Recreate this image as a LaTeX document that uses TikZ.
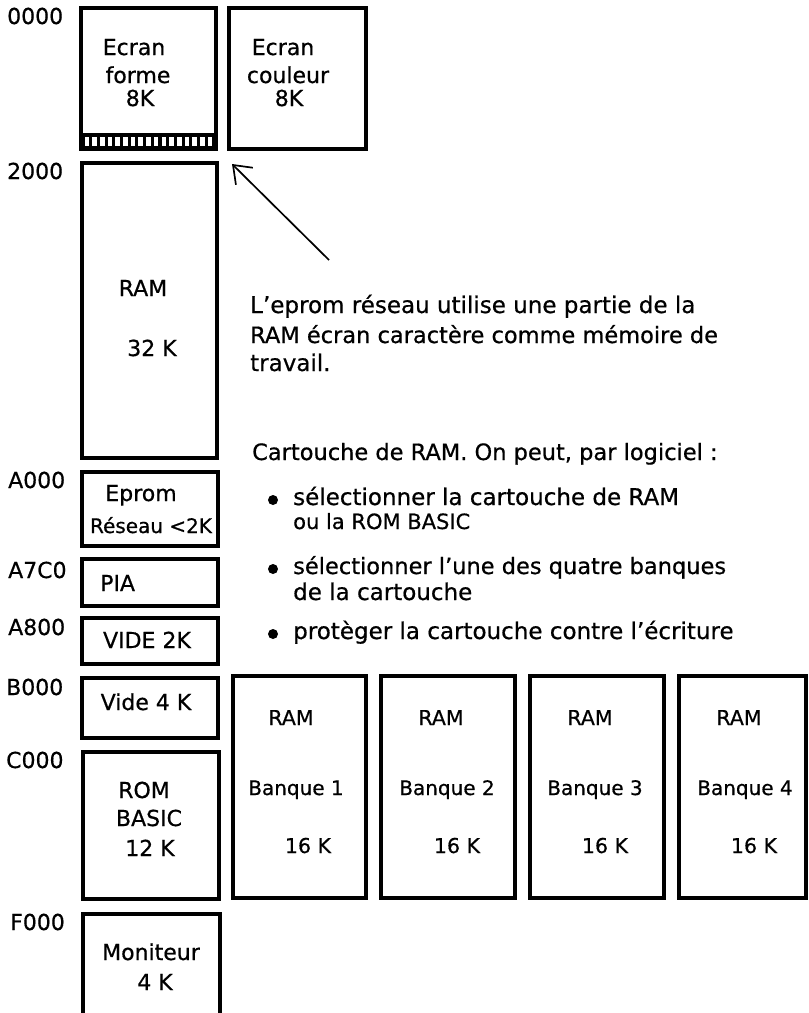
\documentclass[tikz,border=0pt]{standalone}
\usepackage{fontspec}
\setmainfont{DejaVu Sans}[FakeBold=0.6]
\usetikzlibrary{fit,arrows.meta}
\begin{document}
\begin{tikzpicture}[x=1pt,y=-1pt,
  mbox/.style={draw, line width=3.6pt, inner sep=0pt},
  boxline/.style={draw, line width=3.6pt},
  lbl/.style={anchor=base, inner sep=0pt, font=\fontsize{22}{26}\selectfont},
  sm/.style={font=\fontsize{20.5}{24}\selectfont},
  smb/.style={font=\fontsize{20}{24}\selectfont},
  addr/.style={anchor=base west, inner sep=0pt, font=\fontsize{22}{26}\selectfont},
  txt/.style={anchor=base west, inner sep=0pt, font=\fontsize{23}{27}\selectfont},
  txtb/.style={anchor=base west, inner sep=0pt, font=\fontsize{22.5}{27}\selectfont},
  txts/.style={anchor=base west, inner sep=0pt, font=\fontsize{21}{25}\selectfont},
  bul/.style={circle, fill, inner sep=0pt, minimum size=10pt}]
\useasboundingbox (0,0) rectangle (809,1013);

% address labels
\node[addr] (a0000) at (7,24) {0000};
\node[addr] (a2000) at (7,179) {2000};
\node[addr] (aA000) at (8,488) {A000};
\node[addr] (aA7C0) at (8,578) {A7C0};
\node[addr] (aA800) at (8,635) {A800};
\node[addr] (aB000) at (6,695) {B000};
\node[addr] (aC000) at (6,768) {C000};
\node[addr] (aF000) at (10,930) {F000};

% memory boxes
\node[mbox, fit={(81,8) (216,149)}] (ef) {};
\fill (81,133) rectangle (216,149);
\foreach \i in {0,...,16} \fill[white] ({84.5+\i*7.7},137) rectangle ++(4.6,8.5);
\node[mbox, fit={(229,8) (366,149)}] (ec) {};
\node[mbox, fit={(82,163) (217,458)}] (ram) {};
\node[mbox, fit={(82,472) (218,546)}] (ep) {};
\node[mbox, fit={(82,559) (218,606)}] (pia) {};
\node[mbox, fit={(82,618) (218,664)}] (vide2) {};
\node[mbox, fit={(82,678) (218,738)}] (vide4) {};
\node[mbox, fit={(83,752) (219,899)}] (rom) {};
\node[mbox, fit={(233,676) (366,898)}] (b1) {};
\node[mbox, fit={(381,676) (515,898)}] (b2) {};
\node[mbox, fit={(530,676) (664,898)}] (b3) {};
\node[mbox, fit={(679,676) (806,898)}] (b4) {};
\node[inner sep=0pt, fit={(83,914) (220,1020)}] (mon) {};
\draw[boxline] (mon.south west) |- (mon.north east) -- (mon.south east);

% box texts
\node[lbl] (t1) at (134,55) {Ecran};
\node[lbl] (t2) at (138,83) {forme};
\node[lbl] (t3) at (140,106) {8K};
\node[lbl] (t4) at (283,55) {Ecran};
\node[lbl] (t5) at (288,83) {couleur};
\node[lbl] (t6) at (289,106) {8K};
\node[lbl] (t7) at (143,296) {RAM};
\node[lbl] (t8) at (152,356) {32 K};
\node[lbl] (t9) at (141,501) {Eprom};
\node[lbl, smb] (t10) at (151,533) {Réseau <2K};
\node[addr] (t11) at (100,591) {PIA};
\node[lbl] (t12) at (147,648) {VIDE 2K};
\node[lbl] (t13) at (146,710) {Vide 4 K};
\node[lbl] (t14) at (144,798) {ROM};
\node[lbl] (t15) at (149,826) {BASIC};
\node[lbl] (t16) at (150,856) {12 K};
\node[lbl] (t17) at (151,960) {Moniteur};
\node[lbl] (t18) at (155,990) {4 K};
\node[lbl, sm] (r1) at (291,725) {RAM};
\node[lbl, sm] (r2) at (441,725) {RAM};
\node[lbl, sm] (r3) at (590,725) {RAM};
\node[lbl, sm] (r4) at (739,725) {RAM};
\node[lbl, smb] (n1) at (296,795) {Banque 1};
\node[lbl, smb] (n2) at (447,795) {Banque 2};
\node[lbl, smb] (n3) at (595,795) {Banque 3};
\node[lbl, smb] (n4) at (745,795) {Banque 4};
\node[lbl, sm] (k1) at (308,853) {16 K};
\node[lbl, sm] (k2) at (457,853) {16 K};
\node[lbl, sm] (k3) at (605,853) {16 K};
\node[lbl, sm] (k4) at (754,853) {16 K};

% arrow
\coordinate (tail) at (329,260);
\coordinate (tip) at (232,164);
\draw[line width=1.7pt, -{Straight Barb[length=16pt,width=24pt,line width=1.7pt]}] (tail) -- (tip);

% notes
\node[txt] (p1) at (250,313) {L'eprom réseau utilise une partie de la};
\node[txtb] (p2) at (250,343) {RAM écran caractère comme mémoire de};
\node[txt] (p3) at (250,371) {travail.};
\node[txtb] (c0) at (252,460) {Cartouche de RAM. On peut, par logiciel :};
\node[bul] (d1) at (273,500) {};
\node[txt] (c1) at (293,505) {sélectionner la cartouche de RAM};
\node[txts] (c2) at (293,529) {ou la ROM BASIC};
\node[bul] (d2) at (273,569) {};
\node[txtb] (c3) at (293,574) {sélectionner l'une des quatre banques};
\node[txt] (c4) at (293,600) {de la cartouche};
\node[bul] (d3) at (273,634) {};
\node[txt] (c5) at (293,639) {protèger la cartouche contre l'écriture};
\end{tikzpicture}
\end{document}
